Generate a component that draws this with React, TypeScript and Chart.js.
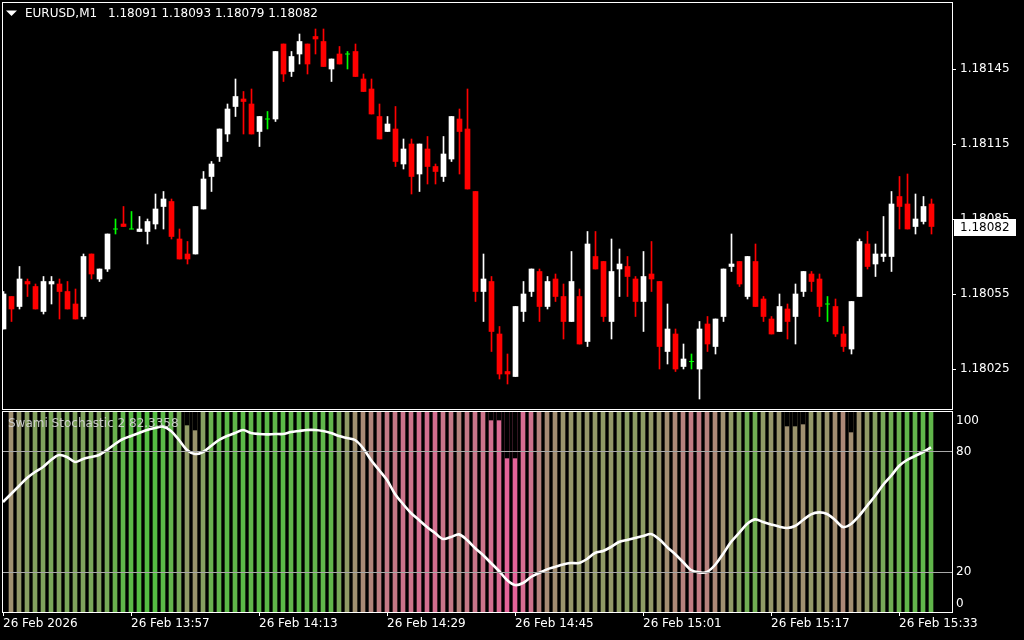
import React, { useEffect, useRef } from "react";
import { Chart, registerables } from "chart.js";

Chart.register(...registerables);

// ---------------- DATA ----------------
const symbolTitle = "EURUSD,M1";
const opens = [
  1.18041, 1.18054, 1.1805, 1.1806, 1.18058, 1.18048, 1.18059, 1.18059, 1.18056, 1.18051,
  1.18046, 1.18071, 1.18061, 1.18065, 1.18081, 1.18083, 1.18081, 1.1808, 1.1808, 1.18083,
  1.1809, 1.18092, 1.18077, 1.18071, 1.18071, 1.18089, 1.18102, 1.1811, 1.18119, 1.1813,
  1.18133, 1.18131, 1.1812, 1.18125, 1.18125, 1.18155, 1.18144, 1.18151, 1.18155, 1.18158,
  1.18156, 1.18145, 1.18151, 1.18151, 1.18152, 1.18141, 1.18137, 1.18126, 1.1812, 1.18121,
  1.18107, 1.18115, 1.18103, 1.18113, 1.18106, 1.18102, 1.18109, 1.18125, 1.18121, 1.18096,
  1.18056, 1.1806, 1.18039, 1.18024, 1.18022, 1.18048, 1.18056, 1.18064, 1.1805, 1.18061,
  1.18054, 1.18044, 1.18054, 1.18036, 1.1807, 1.18068, 1.18044, 1.18065, 1.18066, 1.18061,
  1.18052, 1.18063, 1.1806, 1.18032, 1.18039, 1.18026, 1.18028, 1.18025, 1.18043, 1.18034,
  1.18046, 1.18066, 1.18068, 1.18054, 1.18068, 1.18053, 1.18045, 1.1804, 1.18049, 1.18046,
  1.18056, 1.18063, 1.18061, 1.18051, 1.1805, 1.18039, 1.18033, 1.18054, 1.18075, 1.18067,
  1.1807, 1.1807, 1.18094, 1.18091, 1.18082, 1.18084, 1.18091,
];
const highs = [
  1.18056, 1.18054, 1.18066, 1.18061, 1.18059, 1.18062, 1.18062, 1.18061, 1.1806, 1.18057,
  1.18071, 1.18071, 1.18065, 1.18079, 1.18085, 1.1809, 1.18088, 1.18086, 1.18085, 1.18095,
  1.18096, 1.18093, 1.18081, 1.18076, 1.1809, 1.18104, 1.18108, 1.18121, 1.18131, 1.18141,
  1.18136, 1.18137, 1.18126, 1.18128, 1.18152, 1.18155, 1.18152, 1.18159, 1.18155, 1.18161,
  1.18161, 1.18149, 1.18154, 1.18152, 1.18155, 1.18143, 1.18141, 1.18131, 1.18126, 1.1813,
  1.18117, 1.18117, 1.18115, 1.18118, 1.18107, 1.18118, 1.18126, 1.18129, 1.18137, 1.18096,
  1.18071, 1.18062, 1.18042, 1.18031, 1.1805, 1.1806, 1.18065, 1.18065, 1.18062, 1.18063,
  1.18059, 1.18072, 1.18057, 1.1808, 1.1808, 1.18068, 1.18077, 1.18073, 1.1807, 1.18062,
  1.18072, 1.18076, 1.1806, 1.18051, 1.18041, 1.18035, 1.18031, 1.18044, 1.18046, 1.18045,
  1.18065, 1.18079, 1.18068, 1.1807, 1.18075, 1.18054, 1.18046, 1.18055, 1.18051, 1.18059,
  1.18064, 1.18064, 1.18063, 1.18054, 1.18053, 1.18042, 1.18052, 1.18077, 1.1808, 1.18075,
  1.18086, 1.18096, 1.18102, 1.18103, 1.18095, 1.18094, 1.18093,
];
const lows = [
  1.18041, 1.18044, 1.18049, 1.18054, 1.18049, 1.18047, 1.18051, 1.18045, 1.18049, 1.18045,
  1.18045, 1.18061, 1.1806, 1.18064, 1.18079, 1.18082, 1.18081, 1.1808, 1.18075, 1.18081,
  1.18081, 1.18077, 1.18069, 1.18067, 1.18071, 1.18089, 1.18096, 1.18108, 1.18116, 1.18126,
  1.18119, 1.18119, 1.18114, 1.18121, 1.18124, 1.1814, 1.18142, 1.18147, 1.18143, 1.18151,
  1.18146, 1.1814, 1.18147, 1.18145, 1.18142, 1.18136, 1.18127, 1.18117, 1.1812, 1.18106,
  1.18105, 1.18095, 1.18096, 1.18099, 1.18099, 1.181, 1.18108, 1.18103, 1.18097, 1.18052,
  1.18044, 1.18032, 1.18021, 1.18019, 1.18022, 1.18044, 1.18054, 1.18044, 1.18049, 1.18052,
  1.18037, 1.18044, 1.18035, 1.18034, 1.18065, 1.18044, 1.18037, 1.18054, 1.18054, 1.18046,
  1.1804, 1.18056, 1.18025, 1.18027, 1.18024, 1.18025, 1.18025, 1.18013, 1.18032, 1.18031,
  1.18044, 1.18064, 1.18058, 1.18053, 1.1805, 1.18044, 1.18039, 1.1804, 1.18037, 1.18035,
  1.18054, 1.18056, 1.18046, 1.18044, 1.18038, 1.18032, 1.18031, 1.18054, 1.18065, 1.18062,
  1.18068, 1.18064, 1.18081, 1.18081, 1.18079, 1.18083, 1.18079,
];
const closes = [
  1.18055, 1.18049, 1.18061, 1.18059, 1.18049, 1.1806, 1.1806, 1.18056, 1.18049, 1.18045,
  1.1807, 1.18063, 1.18065, 1.18079, 1.18081, 1.18082, 1.18081, 1.18081, 1.18084, 1.18089,
  1.18093, 1.18078, 1.18069, 1.18069, 1.1809, 1.18101, 1.18107, 1.18121, 1.18129, 1.18134,
  1.18132, 1.18119, 1.18126, 1.18125, 1.18152, 1.18143, 1.1815, 1.18156, 1.18147, 1.18157,
  1.18146, 1.18149, 1.18147, 1.18151, 1.18142, 1.18136, 1.18127, 1.18117, 1.18123, 1.18108,
  1.18113, 1.18102, 1.18115, 1.18106, 1.18104, 1.18111, 1.18126, 1.1812, 1.18097, 1.18056,
  1.18061, 1.1804, 1.18023, 1.18023, 1.1805, 1.18055, 1.18065, 1.1805, 1.1806, 1.18054,
  1.18044, 1.1806, 1.18035, 1.18075, 1.18065, 1.18046, 1.18064, 1.18067, 1.18062, 1.18052,
  1.18062, 1.18061, 1.18034, 1.18041, 1.18025, 1.18029, 1.18028, 1.18041, 1.18035, 1.18045,
  1.18065, 1.18067, 1.18059, 1.1807, 1.1805, 1.18046, 1.18039, 1.1805, 1.18044, 1.18055,
  1.18064, 1.1806, 1.1805, 1.18051, 1.18039, 1.18034, 1.18052, 1.18076, 1.18066, 1.18071,
  1.18071, 1.18091, 1.1809, 1.18081, 1.18085, 1.1809, 1.18082,
];
const priceTicks = [1.18025, 1.18055, 1.18085, 1.18115, 1.18145];
const priceRange = [1.18009, 1.181714];

const indicatorTitle = "Swami Stochastic 2";
const swamiLine = [
  55, 59, 63, 67, 70, 72.5, 76, 78.5, 77.5, 75,
  76.5, 77.5, 78.5, 81, 84, 86.5, 88, 89.5, 91, 92,
  92.7, 90.5, 86, 81, 79, 80, 83, 86, 88, 89.5,
  91, 89.5, 89, 88.8, 89, 89, 90, 90.5, 91, 91,
  90.5, 89.5, 88, 87, 86, 82, 76, 71, 66, 59,
  54, 49.5, 46, 42.5, 39.5, 36.5, 37.5, 38.8, 36, 32,
  28.5, 24.5, 20.5, 16, 13.5, 14.5, 17.5, 19.5, 21.3, 22.5,
  23.8, 24.5, 24.5, 26.5, 29.5, 30.5, 32.5, 35, 36, 37,
  38, 39, 36.5, 32.5, 29, 25, 21, 19.8, 20, 23.5,
  29, 35, 39.5, 44, 46.3, 45, 43.8, 42.7, 42, 43,
  46, 48.8, 49.8, 49, 46, 42.5, 44, 48, 53, 58,
  63.5, 68, 73, 76, 78, 80, 82.3358,
];
// heat-map tone of each Swami column: 0 = bearish (pink), 50 = neutral (tan), 100 = bullish (green)
const swamiTone: (number | null)[] = [
  null, 50, 58, 65, 68, 70, 74, 70, 74, 70,
  70, 74, 70, 76, 84, 90, 93, 97, 97, 97,
  93, 88, 76, 60, 54, 66, 84, 90, 93, 90,
  93, 90, 93, 93, 90, 93, 90, 93, 90, 88,
  90, 90, 75, 60, 50, 44, 38, 30, 25, 25,
  20, 20, 15, 15, 15, 22, 25, 35, 25, 22,
  20, 15, 10, 3, 3, 12, 18, 35, 45, 48,
  54, 56, 58, 56, 58, 60, 58, 62, 64, 62,
  62, 58, 55, 48, 42, 35, 28, 28, 35, 42,
  50, 60, 68, 80, 80, 60, 56, 54, 50, 54,
  50, 58, 58, 54, 48, 42, 48, 52, 60, 66,
  75, 80, 84, 90, 88, 90, 90,
];
// empty (unpainted) stretches at the top of some Swami columns
const gapCols = [23, 24, 61, 62, 63, 64, 98, 99, 100, 106];
const gapFrom = [93.5, 91, 96, 96, 77, 77, 93, 93, 94, 90];
const gapTo = [100, 100, 100, 100, 100, 100, 100, 100, 100, 100];

const swamiLevels = [20, 80];
const swamiAxisLabels = [100, 80, 20, 0];
const timeTickIndex = [0, 16, 32, 48, 64, 80, 96, 112];
const timeLabels = [
  "26 Feb 2026", "26 Feb 13:57", "26 Feb 14:13", "26 Feb 14:29",
  "26 Feb 14:45", "26 Feb 15:01", "26 Feb 15:17", "26 Feb 15:33",
];

// ---------------- STYLE ----------------
const FONT = '"DejaVu Sans", "Liberation Sans", sans-serif';
const BULL = "#ffffff";
const BEAR = "#ff0000";
const DOJI = "#00ff00";
const TEXT = "#ffffff";
const AXIS_W = 72;
const SLOT = 8; // px per bar
const PLOT_W = 950;

function toneColor(t: number): string {
  const pink = [232, 96, 156];
  const tan = [160, 144, 112];
  const green = [80, 192, 64];
  let a: number[], b: number[], f: number;
  if (t <= 50) { a = pink; b = tan; f = t / 50; } else { a = tan; b = green; f = (t - 50) / 50; }
  const c = a.map((v, k) => Math.round(v + (b[k] - v) * f));
  return `rgb(${c[0]},${c[1]},${c[2]})`;
}

const N = opens.length;
const idx = Array.from({ length: N }, (_, i) => i);
const candleColor = (i: number) => (closes[i] > opens[i] ? BULL : closes[i] < opens[i] ? BEAR : DOJI);

const framePlugin = {
  id: "frame",
  afterDraw(chart: any) {
    const { ctx, chartArea: a } = chart;
    ctx.save();
    ctx.strokeStyle = "#ffffff";
    ctx.lineWidth = 1;
    ctx.strokeRect(a.left + 0.5, a.top - 0.5, a.right - a.left, a.bottom - a.top + 1);
    ctx.restore();
  },
};

const mainDecor = {
  id: "mainDecor",
  afterDraw(chart: any) {
    const { ctx, chartArea: a } = chart;
    const ys = chart.scales.y;
    ctx.save();
    ctx.fillStyle = TEXT;
    ctx.beginPath();
    ctx.moveTo(6, 10.5);
    ctx.lineTo(17, 10.5);
    ctx.lineTo(11.5, 16);
    ctx.closePath();
    ctx.fill();
    ctx.font = `12px ${FONT}`;
    ctx.textBaseline = "middle";
    ctx.textAlign = "left";
    ctx.fillText(symbolTitle, 25, 13.5);
    const last = N - 1;
    const ohlc = [opens[last], highs[last], lows[last], closes[last]].map((v) => v.toFixed(5)).join(" ");
    ctx.fillText(ohlc, 108, 13.5);
    const py = ys.getPixelForValue(closes[last]);
    ctx.fillStyle = "#ffffff";
    ctx.fillRect(a.right + 2, Math.round(py) - 8, 62, 17);
    ctx.fillStyle = "#000000";
    ctx.fillText(closes[last].toFixed(5), a.right + 8, Math.round(py) + 0.5);
    ctx.restore();
  },
};

const subDecor = {
  id: "subDecor",
  afterDraw(chart: any) {
    const { ctx, chartArea: a } = chart;
    const ys = chart.scales.y;
    ctx.save();
    ctx.font = `12px ${FONT}`;
    ctx.textBaseline = "middle";
    ctx.textAlign = "left";
    ctx.fillStyle = "rgba(215,215,215,0.9)";
    ctx.fillText(`${indicatorTitle} ${swamiLine[N - 1].toFixed(4)}`, 8, a.top + 12);
    ctx.fillStyle = TEXT;
    swamiAxisLabels.forEach((v) => {
      const y = Math.min(Math.max(ys.getPixelForValue(v), a.top + 9), a.bottom - 8);
      ctx.fillText(String(v), a.right + 4, y);
    });
    ctx.restore();
  },
};

export default function App() {
  const mainRef = useRef<HTMLCanvasElement>(null);
  const subRef = useRef<HTMLCanvasElement>(null);

  useEffect(() => {
    const xMinMain = -1.5 / SLOT;
    const xMinSub = -1 / SLOT;
    const bodyIdx = idx.filter((i) => opens[i] !== closes[i]);
    const dojiIdx = idx.filter((i) => opens[i] === closes[i]);

    const main = new Chart(mainRef.current as HTMLCanvasElement, {
      type: "bar",
      data: {
        datasets: [
          {
            type: "bar",
            label: "wick",
            data: idx.map((i) => ({ x: i, y: [lows[i], highs[i]] })) as any,
            backgroundColor: idx.map(candleColor),
            barThickness: 1,
            grouped: false,
            borderWidth: 0,
            order: 2,
          },
          {
            type: "bar",
            label: "body",
            data: bodyIdx.map((i) => ({ x: i, y: [opens[i], closes[i]] })) as any,
            backgroundColor: bodyIdx.map(candleColor),
            barThickness: 5,
            grouped: false,
            borderWidth: 0,
            order: 1,
          },
          {
            type: "scatter",
            label: "doji",
            data: dojiIdx.map((i) => ({ x: i, y: opens[i] })),
            pointStyle: "line",
            pointRadius: 2.5,
            pointHoverRadius: 2.5,
            borderColor: DOJI,
            borderWidth: 1,
            order: 0,
          } as any,
        ],
      },
      options: {
        animation: false,
        responsive: false,
        devicePixelRatio: 1,
        events: [],
        layout: { autoPadding: false, padding: { top: 3, bottom: 1, left: 2, right: 0 } },
        plugins: { legend: { display: false }, tooltip: { enabled: false } },
        scales: {
          x: { type: "linear", display: false, offset: false, min: xMinMain, max: xMinMain + PLOT_W / SLOT },
          y: {
            type: "linear",
            position: "right",
            min: priceRange[0],
            max: priceRange[1],
            afterBuildTicks: (s: any) => {
              s.ticks = priceTicks.map((v) => ({ value: v }));
            },
            afterFit: (s: any) => {
              s.width = AXIS_W;
              s.paddingTop = 0;
              s.paddingBottom = 0;
            },
            grid: { drawOnChartArea: false, drawTicks: true, tickLength: 4, tickColor: "#ffffff", color: "#ffffff" },
            border: { display: false },
            ticks: {
              color: TEXT,
              font: { family: FONT, size: 12 },
              padding: 4,
              callback: (v: any) => Number(v).toFixed(5),
            },
          },
        },
      } as any,
      plugins: [framePlugin, mainDecor],
    });

    const colIdx = idx.filter((i) => swamiTone[i] !== null);
    const sub = new Chart(subRef.current as HTMLCanvasElement, {
      type: "bar",
      data: {
        datasets: [
          {
            type: "line",
            label: indicatorTitle,
            data: idx.map((i) => ({ x: i, y: swamiLine[i] })),
            borderColor: "#ffffff",
            borderWidth: 2.6,
            pointRadius: 0,
            pointHoverRadius: 0,
            tension: 0.3,
            order: 0,
          },
          {
            type: "bar",
            label: "gaps",
            data: gapCols.map((c, k) => ({ x: c, y: [gapFrom[k], gapTo[k]] })) as any,
            backgroundColor: "#000000",
            barThickness: 4,
            grouped: false,
            borderWidth: 0,
            order: 1,
          },
          {
            type: "bar",
            label: "heat",
            data: colIdx.map((i) => ({ x: i, y: [0, 100] })) as any,
            backgroundColor: colIdx.map((i) => toneColor(swamiTone[i] as number)),
            barThickness: 4,
            grouped: false,
            borderWidth: 0,
            order: 2,
          },
        ],
      },
      options: {
        animation: false,
        responsive: false,
        devicePixelRatio: 1,
        events: [],
        layout: { autoPadding: false, padding: { top: 2, bottom: 0, left: 2, right: 0 } },
        plugins: { legend: { display: false }, tooltip: { enabled: false } },
        scales: {
          x: {
            type: "linear",
            position: "bottom",
            offset: false,
            min: xMinSub,
            max: xMinSub + PLOT_W / SLOT,
            afterBuildTicks: (s: any) => {
              s.ticks = timeTickIndex.map((v) => ({ value: v }));
            },
            afterFit: (s: any) => {
              s.height = 28;
              s.paddingLeft = 0;
              s.paddingRight = 0;
            },
            grid: { drawOnChartArea: false, drawTicks: true, tickLength: 4, tickColor: "#ffffff", color: "#ffffff", offset: false },
            border: { display: false },
            ticks: {
              color: TEXT,
              font: { family: FONT, size: 12 },
              align: "start",
              maxRotation: 0,
              minRotation: 0,
              autoSkip: false,
              padding: 1,
              callback: (_v: any, i: number) => timeLabels[i],
            },
          },
          y: {
            type: "linear",
            position: "right",
            min: 0,
            max: 100,
            afterBuildTicks: (s: any) => {
              s.ticks = swamiLevels.map((v) => ({ value: v }));
            },
            afterFit: (s: any) => {
              s.width = AXIS_W;
              s.paddingTop = 0;
              s.paddingBottom = 0;
            },
            grid: { color: "#a8a8a8", drawTicks: false, z: 1 },
            border: { display: false },
            ticks: { display: false },
          },
        },
      } as any,
      plugins: [framePlugin, subDecor],
    });

    return () => {
      main.destroy();
      sub.destroy();
    };
  }, []);

  return (
    <div
      style={{
        position: "fixed",
        left: 0,
        top: 0,
        width: 1024,
        height: 640,
        background: "#000000",
        overflow: "hidden",
      }}
    >
      <canvas ref={mainRef} width={1024} height={410} style={{ position: "absolute", left: 0, top: 0 }} />
      <canvas ref={subRef} width={1024} height={230} style={{ position: "absolute", left: 0, top: 410 }} />
    </div>
  );
}
